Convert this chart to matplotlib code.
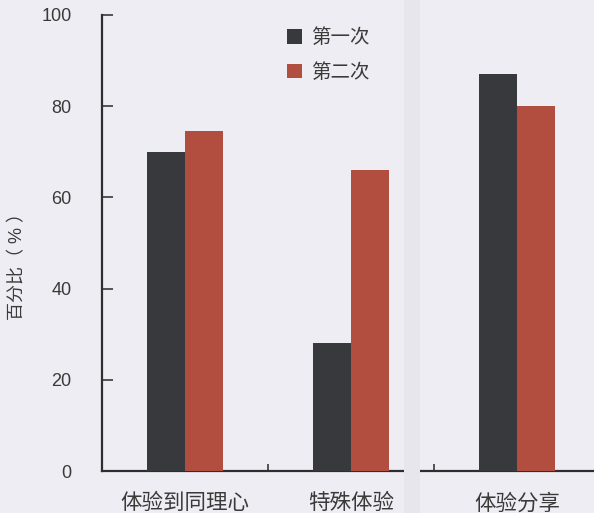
import matplotlib
matplotlib.use("Agg")
import matplotlib.pyplot as plt
from matplotlib.patches import Rectangle
import numpy as np

plt.rcParams['font.family'] = ['Liberation Sans', 'Noto Sans CJK SC', 'DejaVu Sans']

categories = ["体验到同理心", "特殊体验", "体验分享"]
series_names = ["第一次", "第二次"]
first = [70, 28, 87]
second = [74.5, 66, 80]
y_ticks = [0, 20, 40, 60, 80, 100]

bg = "#eeedf3"
dark = "#38393d"
red = "#b24e3f"
ink = "#3a3a3a"

fig = plt.figure(figsize=(5.94, 5.13), dpi=100, facecolor=bg)
# faint scanned-page fold band
fig.patches.append(Rectangle((404 / 594, 0), 16 / 594, 1, transform=fig.transFigure,
                             facecolor="#e7e6ed", edgecolor="none", zorder=0))

ax = fig.add_axes([102 / 594, 1 - 471 / 513, 498 / 594, 456 / 513])
ax.set_facecolor("none")

x = np.arange(len(categories))
w = 0.228
ax.bar(x - w / 2, first, width=w, color=dark, label=series_names[0], zorder=3)
ax.bar(x + w / 2, second, width=w, color=red, label=series_names[1], zorder=3)

ax.set_xlim(-0.5, 2.5)
ax.set_ylim(0, 100)
ax.set_yticks(y_ticks)
ax.tick_params(axis='y', direction='in', length=8, width=1.2, color=ink,
               labelsize=13, labelcolor=ink, pad=22)
ax.set_xticks(x)
ax.set_xticklabels(categories, fontsize=15.5, color=ink)
ax.tick_params(axis='x', which='major', length=0, pad=16)
ax.set_xticks([0.5, 1.5], minor=True)
ax.tick_params(axis='x', which='minor', direction='in', length=5, width=1.2, color=ink)

for s in ['top', 'right']:
    ax.spines[s].set_visible(False)
for s in ['left', 'bottom']:
    ax.spines[s].set_linewidth(1.6)
    ax.spines[s].set_color("#2e2e30")

fig.text(18 / 594, 1 - 262 / 513, "百分比（ % ）", rotation=90, ha='center', va='center',
         fontsize=13, color=ink)

leg = ax.legend(loc='upper left', bbox_to_anchor=(167 / 498, 1 + 4 / 456),
                frameon=False, fontsize=14, handlelength=0.78, handleheight=0.78,
                handletextpad=0.5, labelspacing=0.8, labelcolor=ink)

fig.savefig("out.png", dpi=100, facecolor=bg)
